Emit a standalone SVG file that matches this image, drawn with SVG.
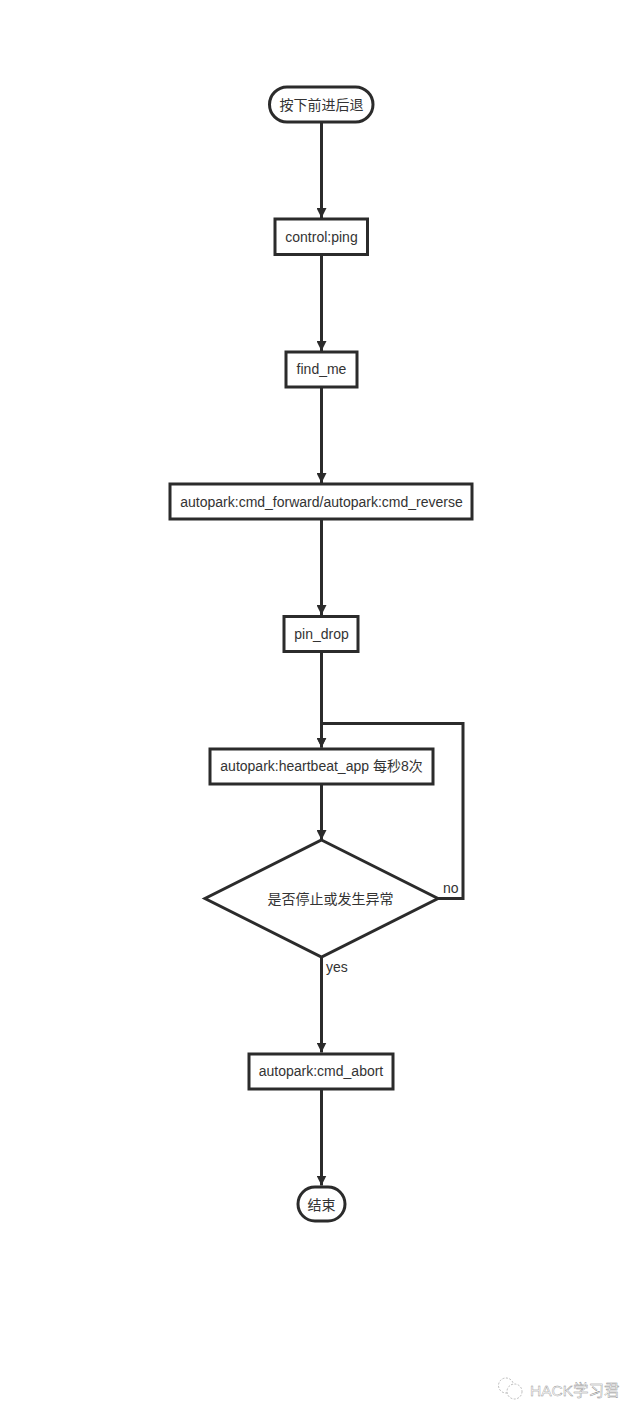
<svg xmlns="http://www.w3.org/2000/svg" width="640" height="1418" viewBox="0 0 640 1418">
<style>
.s{fill:#fff;stroke:#2b2b2b;stroke-width:3}
.c{fill:none;stroke:#2b2b2b;stroke-width:3}
.t{font-family:"Liberation Sans","Noto Sans CJK SC",sans-serif;font-size:14px;fill:#333;text-anchor:middle}
.l{font-family:"Liberation Sans","Noto Sans CJK SC",sans-serif;font-size:14px;fill:#333}
.w{font-family:"Liberation Sans","Noto Sans CJK SC",sans-serif;font-size:15.500px;fill:#fff;stroke:#8a8a8a;stroke-width:.4}
.i{fill:#fff;stroke:#aaa;stroke-width:.8;stroke-dasharray:2 1.500}
</style>
<defs><marker id="a" markerUnits="userSpaceOnUse" markerWidth="10" markerHeight="10" refX="10" refY="5" orient="auto"><path d="M0 0L10 5L0 10Z" fill="#2b2b2b"/></marker></defs>
<rect width="640" height="1418" fill="#fff"/>
<g id="connectors">
<path class="c" d="M321.5 123V218" marker-end="url(#a)"/>
<path class="c" d="M321.5 255V351" marker-end="url(#a)"/>
<path class="c" d="M321.5 388V483" marker-end="url(#a)"/>
<path class="c" d="M321.5 520V615" marker-end="url(#a)"/>
<path class="c" d="M321.5 652V747.500" marker-end="url(#a)"/>
<path class="c" d="M321.5 785V840" marker-end="url(#a)"/>
<path class="c" d="M438 898.500H463V723.500H321.500V747.500" marker-end="url(#a)"/>
<path class="c" d="M321.5 957V1052.500" marker-end="url(#a)"/>
<path class="c" d="M321.5 1090V1185.500" marker-end="url(#a)"/>
</g>
<g id="start"><rect class="s" x="269.500" y="87" width="103.500" height="35" rx="17.500"/><text class="t" x="321.500" y="109.500">按下前进后退</text></g>
<g id="ping"><rect class="s" x="275" y="219" width="92.500" height="35.500"/><text class="t" x="321.500" y="242">control:ping</text></g>
<g id="find"><rect class="s" x="286" y="352" width="71" height="35"/><text class="t" x="321.500" y="374">find_me</text></g>
<g id="cmd"><rect class="s" x="170" y="484" width="302" height="35"/><text class="t" x="321.500" y="507">autopark:cmd_forward/autopark:cmd_reverse</text></g>
<g id="pin"><rect class="s" x="284" y="616.500" width="74" height="35"/><text class="t" x="321.500" y="639">pin_drop</text></g>
<g id="heartbeat"><rect class="s" x="210" y="749" width="223" height="35"/><text class="t" x="321.500" y="771">autopark:heartbeat_app 每秒8次</text></g>
<g id="decision"><path class="s" d="M321.500 840L438 898.500L321.500 957L205 898.500Z"/><text class="t" x="330.500" y="903.500">是否停止或发生异常</text></g>
<g id="abort"><rect class="s" x="249" y="1054" width="144" height="35"/><text class="t" x="321" y="1076">autopark:cmd_abort</text></g>
<g id="end"><rect class="s" x="298" y="1187" width="47" height="34" rx="17"/><text class="t" x="321.500" y="1209.500">结束</text></g>
<text class="l" x="443" y="893">no</text>
<text class="l" x="326" y="972">yes</text>
<g id="watermark"><circle class="i" cx="506" cy="1385.500" r="7.500"/><circle class="i" cx="514.500" cy="1391.500" r="7.500"/><text class="w" x="530" y="1396">HACK学习君</text></g>
</svg>
